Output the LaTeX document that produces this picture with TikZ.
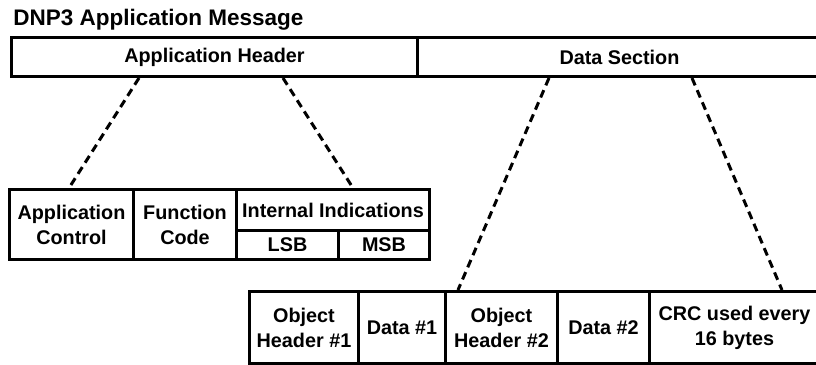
\documentclass[tikz,border=0pt]{standalone}
\usepackage{fontspec}
\setmainfont{Liberation Sans}
\usepackage{tikz}
\usetikzlibrary{positioning}
\tikzset{
  cell/.style={draw, line width=1.5pt, inner sep=0pt, anchor=north west, align=center,
    font=\fontsize{9.9}{12.5}\selectfont\bfseries},
  zoomline/.style={line width=1.5pt, dash pattern=on 4pt off 2.6pt}
}
\begin{document}
\begin{tikzpicture}[x=0.5pt,y=-0.5pt]%pixel grid
\useasboundingbox (0,0) rectangle (816,365);
\node [anchor=base west, inner sep=0pt, font=\fontsize{11.25}{13}\selectfont\bfseries] (title) at (13,25) {DNP3 Application Message};
% top row
\node [cell, minimum width=203pt, minimum height=19.5pt] (hdr) at (10,36) {Application Header};
\node [cell, minimum width=202pt, minimum height=19.5pt] (data) at (416,36) {Data Section};
% header fields
\node [cell, minimum width=62pt, minimum height=35pt] (ctl) at (8,188) {Application\\Control};
\node [cell, minimum width=51.5pt, minimum height=35pt] (fc) at (132,188) {Function\\Code};
\node [cell, minimum width=96.5pt, minimum height=20.5pt] (iin) at (235,188) {Internal Indications};
\node [cell, minimum width=51pt, minimum height=14.5pt] (lsb) at (235,229) {LSB};
\node [cell, minimum width=45.5pt, minimum height=14.5pt] (msb) at (337,229) {MSB};
% data objects
\node [cell, minimum width=54.5pt, minimum height=36pt] (oh1) at (248,290) {Object\\Header \#1};
\node [cell, minimum width=43.5pt, minimum height=36pt] (d1) at (357,290) {Data \#1};
\node [cell, minimum width=56pt, minimum height=36pt] (oh2) at (444,290) {Object\\Header \#2};
\node [cell, minimum width=46pt, minimum height=36pt] (d2) at (556,290) {Data \#2};
\node [cell, minimum width=85pt, minimum height=36pt] (crc) at (648,290) {CRC used every\\16 bytes};
% zoom lines
\draw [zoomline] ([xshift=64.5pt]hdr.south west) -- ([xshift=30.5pt]ctl.north west);
\draw [zoomline] ([xshift=136.5pt]hdr.south west) -- ([xshift=59pt]iin.north west);
\draw [zoomline] ([xshift=66.5pt]data.south west) -- ([xshift=7pt]oh2.north west);
\draw [zoomline] ([xshift=138pt]data.south west) -- ([xshift=67pt]crc.north west);
\end{tikzpicture}
\end{document}
